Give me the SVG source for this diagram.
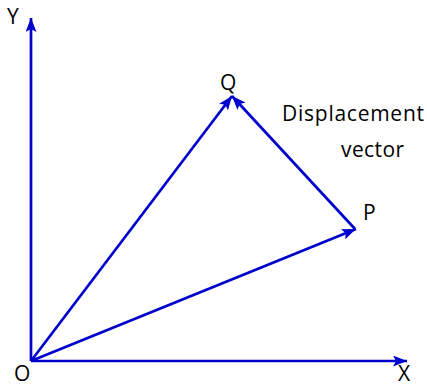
<svg xmlns="http://www.w3.org/2000/svg" width="427" height="387" viewBox="0 0 427 387">
<style>
.v{stroke:#0000CC;stroke-width:2.7;fill:none;marker-end:url(#ah)}
.t{font-family:"Open Sans","Liberation Sans",sans-serif;font-size:21px;fill:#000}
</style>
<defs>
<marker id="ah" viewBox="0 0 14 11" refX="14" refY="5.5" markerWidth="14" markerHeight="11" markerUnits="userSpaceOnUse" orient="auto">
<path d="M0,0 L14,5.5 L0,11 L3,5.5 Z" fill="#0000CC"/>
</marker>
</defs>
<rect width="427" height="387" fill="#fff"/>
<g id="connectors">
<line class="v" x1="31" y1="361" x2="31" y2="18"/>
<line class="v" x1="31" y1="361" x2="407" y2="361"/>
<line class="v" x1="31" y1="361" x2="232" y2="96"/>
<line class="v" x1="31" y1="361" x2="356" y2="229"/>
<line class="v" x1="355" y1="229" x2="232" y2="96"/>
</g>
<g id="O"><text class="t" x="14" y="381">O</text></g>
<g id="X"><text class="t" x="398" y="381">X</text></g>
<g id="Y"><text class="t" x="7" y="24">Y</text></g>
<g id="Q"><text class="t" x="220" y="90">Q</text></g>
<g id="P"><text class="t" x="363" y="220">P</text></g>
<g id="label">
<text class="t" x="282" y="121" textLength="142">Displacement</text>
<text class="t" x="341" y="157" textLength="63">vector</text>
</g>
</svg>
